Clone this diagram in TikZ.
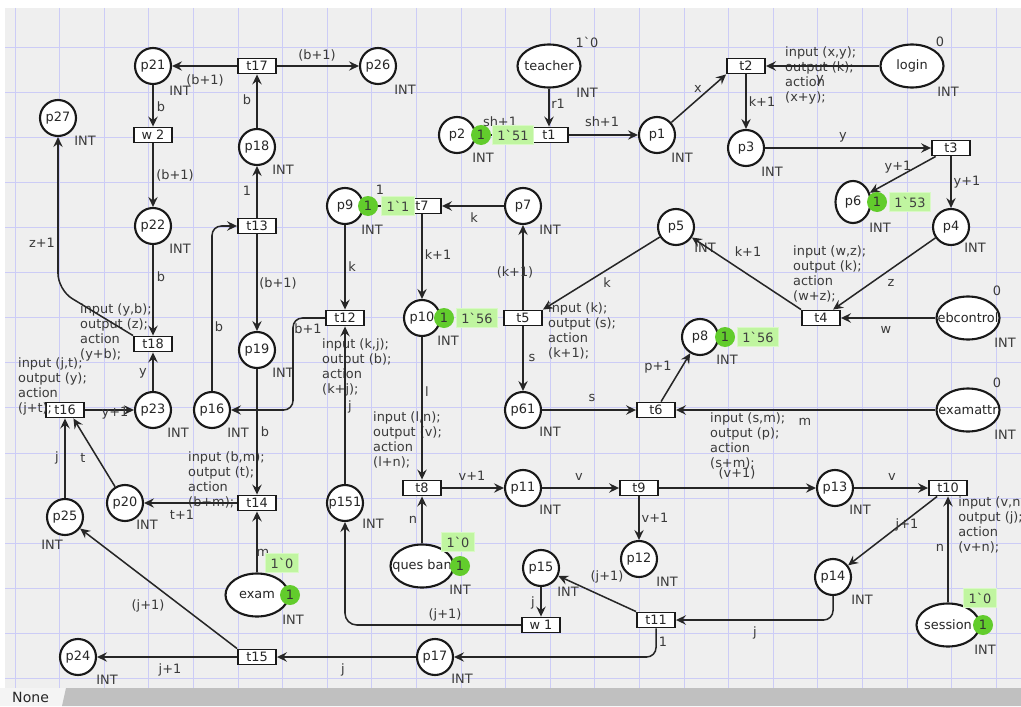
\documentclass[tikz,border=0pt]{standalone}
\usepackage{fontspec}
\setmainfont{DejaVu Sans}
\usetikzlibrary{arrows.meta,positioning,shapes.geometric}

\definecolor{canvas}{RGB}{239,239,239}
\definecolor{gridline}{RGB}{204,204,246}
\definecolor{tokengreen}{RGB}{98,204,44}
\definecolor{markgreen}{RGB}{192,245,160}
\definecolor{inkgray}{RGB}{58,58,58}
\definecolor{barcolor}{RGB}{192,192,192}
\definecolor{tabgray}{RGB}{244,244,244}
\newcommand{\bq}{\textasciigrave}
\newcommand{\netfont}{\fontsize{11}{13}\selectfont}
\newcommand{\poolname}[1]{\makebox[0pt]{#1}}

\begin{document}
\begin{tikzpicture}[
    x=0.03cm, y=-0.03cm,
    >={Stealth[length=8.5pt,width=8pt,inset=3pt]},
    place/.style={circle, draw=black!90, line width=1.8pt, fill=white, minimum size=1.08cm, inner sep=0pt, text=black!85, font=\netfont},
    pool/.style={ellipse, draw=black!90, line width=1.8pt, fill=white, minimum width=1.89cm, minimum height=1.29cm, inner sep=0pt, text=black!85, font=\netfont},
    trans/.style={rectangle, draw=black!90, line width=1.6pt, fill=white, minimum width=1.14cm, minimum height=0.45cm, inner sep=0pt, text=black!85, font=\netfont},
    tokendot/.style={circle, fill=tokengreen, minimum size=0.6cm, inner sep=0pt, text=black!80, font=\netfont},
    tokenlabel/.style={rectangle, fill=markgreen, draw=markgreen!60, line width=1pt, minimum height=0.55cm, inner xsep=4pt, text=black!75, font=\netfont},
    lab/.style={inner sep=0pt, text=inkgray, font=\netfont},
    code/.style={lab, anchor=north west, align=left},
    flow/.style={->, line width=1.3pt, draw=black!85}
]

% canvas and status bar
\useasboundingbox (0,0) rectangle (1021,706);
\fill[white] (0,0) rectangle (1021,706);
\fill[canvas] (5,8) rectangle (1021,688);
\foreach \gx in {0,...,22}
    \draw[gridline, line width=0.7pt] ({15+44.6*\gx},8) -- ({15+44.6*\gx},688);
\foreach \gy in {1,...,15}
    \draw[gridline, line width=0.7pt] (5,{2+45.1*\gy}) -- (1021,{2+45.1*\gy});
\fill[tabgray] (0,688) rectangle (66,706);
\fill[barcolor] (62,706) -- (66,688) -- (1021,688) -- (1021,706) -- cycle;
\node[anchor=west, inner sep=0pt, font=\fontsize{12}{14}\selectfont, text=black!85] (status) at (12,697) {None};

% places
\node[place] (p21) at (153,66) {p21};
\node[place] (p26) at (378,66) {p26};
\node[place] (p27) at (58,118) {p27};
\node[place] (p18) at (257,147) {p18};
\node[place] (p22) at (153,226) {p22};
\node[place] (p19) at (257,350) {p19};
\node[place] (p23) at (153,410) {p23};
\node[place] (p16) at (212,410) {p16};
\node[place] (p20) at (125,503) {p20};
\node[place] (p25) at (65,517) {p25};
\node[place] (p24) at (78,657) {p24};
\node[place] (p2) at (457,135) {p2};
\node[place] (p1) at (657,135) {p1};
\node[place] (p3) at (746,148) {p3};
\node[pool, minimum width=1.05cm, minimum height=1.26cm] (p6) at (853,202) {p6};
\node[place] (p4) at (951,227) {p4};
\node[place] (p9) at (345,206) {p9};
\node[place] (p7) at (523,206) {p7};
\node[place] (p5) at (676,227) {p5};
\node[place] (p10) at (422,318) {p10};
\node[place] (p8) at (700,337) {p8};
\node[place] (p61) at (523,410) {p61};
\node[place] (p11) at (523,488) {p11};
\node[place] (p13) at (835,488) {p13};
\node[place] (p151) at (345,503) {p151};
\node[place] (p12) at (639,559) {p12};
\node[place] (p15) at (541,568) {p15};
\node[place] (p14) at (833,577) {p14};
\node[place] (p17) at (435,657) {p17};

\node[pool] (teacher) at (549,66) {\poolname{teacher}};
\node[pool] (login) at (912,66) {\poolname{login}};
\node[pool] (ebcontrol) at (968,318) {\poolname{ebcontrol}};
\node[pool] (examattr) at (968,410) {\poolname{examattr}};
\node[pool] (exam) at (257,595) {\poolname{exam}};
\node[pool] (quesban) at (422,566) {\poolname{ques ban}};
\node[pool] (session) at (948,625) {\poolname{session}};

% transitions
\node[trans] (t17) at (257,66) {t17};
\node[trans] (w2) at (153,135) {w 2};
\node[trans] (t13) at (257,226) {t13};
\node[trans] (t18) at (153,344) {t18};
\node[trans] (t16) at (65,410) {t16};
\node[trans] (t14) at (257,503) {t14};
\node[trans] (t15) at (257,657) {t15};
\node[trans] (t12) at (345,318) {t12};
\node[trans] (t7) at (422,206) {t7};
\node[trans] (t1) at (549,135) {t1};
\node[trans] (t2) at (746,66) {t2};
\node[trans] (t3) at (951,148) {t3};
\node[trans] (t5) at (523,318) {t5};
\node[trans] (t4) at (821,318) {t4};
\node[trans] (t6) at (656,410) {t6};
\node[trans] (t8) at (422,488) {t8};
\node[trans] (t9) at (639,488) {t9};
\node[trans] (t10) at (948,488) {t10};
\node[trans] (w1) at (541,625) {w 1};
\node[trans] (t11) at (656,620) {t11};

% colour sets
\node[lab] (intp21) at (180,91) {INT};
\node[lab] (intp26) at (405,90) {INT};
\node[lab] (intp27) at (85,141) {INT};
\node[lab] (intp18) at (283,170) {INT};
\node[lab] (intp22) at (180,249) {INT};
\node[lab] (intp19) at (283,373) {INT};
\node[lab] (intp23) at (178,433) {INT};
\node[lab] (intp16) at (238,433) {INT};
\node[lab] (intp20) at (147,525) {INT};
\node[lab] (intp25) at (52,545) {INT};
\node[lab] (intp24) at (107,680) {INT};
\node[lab] (intexam) at (293,620) {INT};
\node[lab] (intteacher) at (587,93) {INT};
\node[lab] (intp2) at (483,158) {INT};
\node[lab] (intp1) at (682,158) {INT};
\node[lab] (intlogin) at (948,92) {INT};
\node[lab] (intp3) at (772,172) {INT};
\node[lab] (intp6) at (880,228) {INT};
\node[lab] (intp4) at (975,248) {INT};
\node[lab] (intp9) at (372,230) {INT};
\node[lab] (intp7) at (550,230) {INT};
\node[lab] (intp5) at (705,248) {INT};
\node[lab] (intp10) at (448,341) {INT};
\node[lab] (intp8) at (727,360) {INT};
\node[lab] (intebcontrol) at (1005,343) {INT};
\node[lab] (intp61) at (550,432) {INT};
\node[lab] (intexamattr) at (1005,435) {INT};
\node[lab] (intp11) at (550,510) {INT};
\node[lab] (intp13) at (860,510) {INT};
\node[lab] (intp151) at (373,524) {INT};
\node[lab] (intquesban) at (460,590) {INT};
\node[lab] (intp12) at (667,582) {INT};
\node[lab] (intp15) at (568,592) {INT};
\node[lab] (intp14) at (862,600) {INT};
\node[lab] (intsession) at (985,650) {INT};
\node[lab] (intp17) at (462,679) {INT};

% initial markings
\node[lab] (imteacher) at (587,42) {1\bq 0};
\node[lab] (imlogin) at (940,42) {0};
\node[lab] (imebcontrol) at (997,291) {0};
\node[lab] (imexamattr) at (997,383) {0};

% transition code
\node[code] (ct2) at (785,46) {input (x,y);\\output (k);\\action\\(x+y);};
\node[code] (ct4) at (793,245) {input (w,z);\\output (k);\\action\\(w+z);};
\node[code] (ct5) at (548,302) {input (k);\\output (s);\\action\\(k+1);};
\node[code] (ct6) at (710,412) {input (s,m);\\output (p);\\action\\(s+m);};
\node[code] (ct8) at (373,411) {input (l,n);\\output (v);\\action\\(l+n);};
\node[code] (ct10) at (958,496) {input (v,n);\\output (j);\\action\\(v+n);};
\node[code] (ct12) at (322,338) {input (k,j);\\output (b);\\action\\(k+j);};
\node[code] (ct14) at (188,451) {input (b,m);\\output (t);\\action\\(b+m);};
\node[code] (ct16) at (18,357) {input (j,t);\\output (y);\\action\\(j+t);};
\node[code] (ct18) at (80,303) {input (y,b);\\output (z);\\action\\(y+b);};

% arcs
\draw[flow] (t17) -- (p21) node[lab] (e1) at (205,80) {(b+1)};
\draw[flow] (t17) -- (p26) node[lab] (e2) at (317,55) {(b+1)};
\draw[flow] (p18) -- (t17) node[lab] (e3) at (247,100) {b};
\draw[flow] (t13) -- (p18) node[lab] (e4) at (247,191) {1};
\draw[flow] (p21) -- (w2) node[lab] (e5) at (161,107) {b};
\draw[flow] (w2) -- (p22) node[lab] (e6) at (175,175) {(b+1)};
\draw[flow, rounded corners=14] (t18.north west) -- (58,290) -- (p27.south) node[lab] (e7) at (42,243) {z+1};
\draw[flow] (p22) -- (t18) node[lab] (e8) at (161,277) {b};
\draw[flow] (p23) -- (t18) node[lab] (e9) at (143,373) {y};
\draw[flow] (t16) -- (p23) node[lab] (e10) at (115,413) {y+1};
\draw[flow, rounded corners=8] (p16.north) -- (212,226) -- (t13.west) node[lab] (e11) at (219,327) {b};
\draw[flow] (t13) -- (p19) node[lab] (e12) at (278,283) {(b+1)};
\draw[flow, rounded corners=8] (t12.west) -- (293,318) -- (293,410) -- (p16.east) node[lab] (e13) at (308,329) {b+1};
\draw[flow] (p19) -- (t14) node[lab] (e14) at (265,432) {b};
\draw[flow] (p25) -- (t16) node[lab] (e15) at (57,458) {j};
\draw[flow] (p20) -- (t16.-45) node[lab] (e16) at (83,458) {t};
\draw[flow] (t14) -- (p20) node[lab] (e17) at (182,515) {t+1};
\draw[flow] (exam) -- (t14) node[lab] (e18) at (263,553) {m};
\draw[flow] (t15.north west) -- (p25) node[lab] (e19) at (148,606) {(j+1)};
\draw[flow] (t15) -- (p24) node[lab] (e20) at (170,670) {j+1};
\draw[flow] (p17) -- (t15) node[lab] (e21) at (343,670) {j};
\draw[flow] (teacher) -- (t1) node[lab] (e22) at (558,104) {r1};
\draw[flow] (t1) -- (p2) node[lab] (e23) at (500,122) {sh+1};
\draw[flow] (t1) -- (p1) node[lab] (e24) at (602,122) {sh+1};
\draw[flow] (p1) -- (t2.south west) node[lab] (e25) at (698,89) {x};
\draw[flow] (login) -- (t2) node[lab] (e26) at (820,80) {y};
\draw[flow] (t2) -- (p3) node[lab] (e27) at (762,102) {k+1};
\draw[flow] (p3) -- (t3) node[lab] (e28) at (843,137) {y};
\draw[flow] (t3) -- (p6) node[lab] (e29) at (898,167) {y+1};
\draw[flow] (t3) -- (p4) node[lab] (e30) at (967,182) {y+1};
\draw[flow] (p7) -- (t7) node[lab] (e31) at (474,218) {k};
\draw[flow] (t7) -- (p9) node[lab] (e32) at (380,190) {1};
\draw[flow] (p9) -- (t12) node[lab] (e33) at (352,267) {k};
\draw[flow] (t7) -- (p10) node[lab] (e34) at (438,255) {k+1};
\draw[flow] (t5) -- (p7) node[lab] (e35) at (515,272) {(k+1)};
\draw[flow] (p5) -- (t5.north east) node[lab] (e36) at (607,283) {k};
\draw[flow] (t4.north west) -- (p5) node[lab] (e37) at (748,252) {k+1};
\draw[flow] (p4) -- (t4) node[lab] (e38) at (891,283) {z};
\draw[flow] (ebcontrol) -- (t4) node[lab] (e39) at (886,330) {w};
\draw[flow] (t5) -- (p61) node[lab] (e40) at (532,358) {s};
\draw[flow] (p151) -- (t12) node[lab] (e41) at (350,407) {j};
\draw[flow] (p10) -- (t8) node[lab] (e42) at (427,392) {l};
\draw[flow] (p61) -- (t6) node[lab] (e43) at (592,398) {s};
\draw[flow] (t6) -- (p8) node[lab] (e44) at (658,367) {p+1};
\draw[flow] (examattr) -- (t6) node[lab] (e45) at (805,422) {m};
\draw[flow] (t9) -- (p13) node[lab] (e46) at (737,473) {(v+1)};
\draw[flow] (quesban) -- (t8) node[lab] (e47) at (413,520) {n};
\draw[flow] (t8) -- (p11) node[lab] (e48) at (472,476) {v+1};
\draw[flow] (p11) -- (t9) node[lab] (e49) at (579,477) {v};
\draw[flow] (t9) -- (p12) node[lab] (e50) at (655,518) {v+1};
\draw[flow] (p13) -- (t10) node[lab] (e51) at (892,477) {v};
\draw[flow] (t10) -- (p14) node[lab] (e52) at (907,525) {j+1};
\draw[flow] (session) -- (t10) node[lab] (e53) at (940,548) {n};
\draw[flow] (t11.north west) -- (p15) node[lab] (e54) at (607,577) {(j+1)};
\draw[flow] (p15) -- (w1) node[lab] (e55) at (533,603) {j};
\draw[flow, rounded corners=10] (w1.west) -- (345,625) -- (p151.south) node[lab] (e56) at (445,615) {(j+1)};
\draw[flow, rounded corners=8] (p14.south) -- (833,620) -- (t11.east) node[lab] (e57) at (755,633) {j};
\draw[flow, rounded corners=8] (t11.south) -- (656,657) -- (p17.east) node[lab] (e58) at (663,642) {1};

% current markings
\node[tokendot] (kp2) at (481,135) {1};
\node[tokenlabel] (mp2) at (513,135) {1\bq 51};
\node[tokendot] (kp9) at (368,206) {1};
\node[tokenlabel] (mp9) at (398,206) {1\bq 1};
\node[tokendot] (kp6) at (877,202) {1};
\node[tokenlabel] (mp6) at (910,202) {1\bq 53};
\node[tokendot] (kp10) at (444,318) {1};
\node[tokenlabel] (mp10) at (477,318) {1\bq 56};
\node[tokendot] (kp8) at (725,337) {1};
\node[tokenlabel] (mp8) at (758,337) {1\bq 56};
\node[tokendot] (kquesban) at (460,566) {1};
\node[tokenlabel] (mquesban) at (458,542) {1\bq 0};
\node[tokendot] (kexam) at (290,595) {1};
\node[tokenlabel] (mexam) at (282,563) {1\bq 0};
\node[tokendot] (ksession) at (983,625) {1};
\node[tokenlabel] (msession) at (980,598) {1\bq 0};

\end{tikzpicture}
\end{document}
